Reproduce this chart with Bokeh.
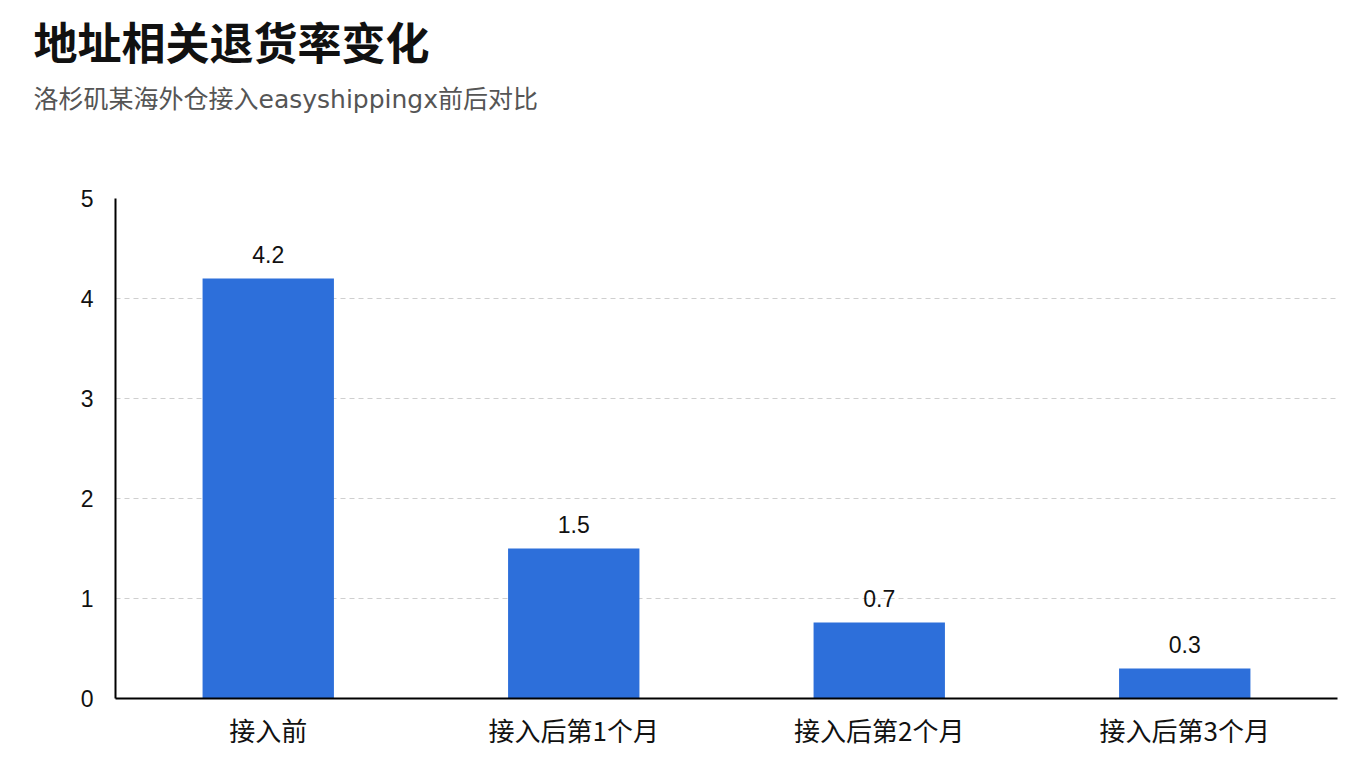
from bokeh.plotting import figure
from bokeh.models import ColumnDataSource, Title, LabelSet
from bokeh.core.properties import value
from bokeh.embed import file_html
from bokeh.resources import INLINE

# data
categories = ["接入前", "接入后第1个月", "接入后第2个月", "接入后第3个月"]
rates = [4.2, 1.5, 0.76, 0.3]
rate_labels = ["4.2", "1.5", "0.7", "0.3"]

CJK = "Noto Sans CJK SC"
NUM = "Liberation Sans"

src = ColumnDataSource(data=dict(cat=categories, rate=rates, lab=rate_labels))

p = figure(x_range=categories, y_range=(0, 5), width=1352, height=760,
           output_backend="svg", toolbar_location=None,
           min_border_left=115, min_border_right=15, min_border_bottom=62,
           min_border_top=5)

p.title.text = "地址相关退货率变化"
p.title.text_font = CJK
p.title.text_font_size = "44px"
p.title.text_font_style = "bold"
p.title.text_color = "#111111"
p.title.offset = -82
p.title.standoff = 12

# blank spacer between the subtitle and the plot area
gap = Title(text=" ", text_font=CJK, text_font_size="10px", standoff=64)
p.add_layout(gap, "above")

sub = Title(text="洛杉矶某海外仓接入easyshippingx前后对比",
            text_font="DejaVu Sans, Noto Sans CJK SC",
            text_font_size="25px", text_font_style="normal",
            text_color="#555555", offset=-82, standoff=8)
p.add_layout(sub, "above")

p.vbar(x="cat", top="rate", width=0.43, source=src, color="#2D6FDA", line_color=None)

labels = LabelSet(x="cat", y="rate", text="lab", source=src, text_align="center",
                  text_baseline="bottom", y_offset=16, text_font=value(NUM),
                  text_font_size=value("23px"), text_color="#111111")
p.add_layout(labels)

p.outline_line_color = None
p.background_fill_color = "white"
p.border_fill_color = "white"

p.xgrid.grid_line_color = None
p.ygrid.grid_line_color = "#cfcfcf"
p.ygrid.grid_line_dash = "5 4"
p.ygrid.grid_line_width = 1

p.yaxis.ticker = [0, 1, 2, 3, 4, 5]
for ax in (p.xaxis, p.yaxis):
    ax.axis_line_color = "black"
    ax.axis_line_width = 2
    ax.major_tick_line_color = None
    ax.minor_tick_line_color = None
    ax.major_label_text_color = "#111111"
p.yaxis.major_label_text_font = NUM
p.yaxis.major_label_text_font_size = "23px"
p.yaxis.major_label_standoff = 16
p.xaxis.major_label_text_font = CJK
p.xaxis.major_label_text_font_size = "26px"
p.xaxis.major_label_standoff = 6
p.x_range.range_padding = 0

open("out.html", "w").write(file_html(p, INLINE))
